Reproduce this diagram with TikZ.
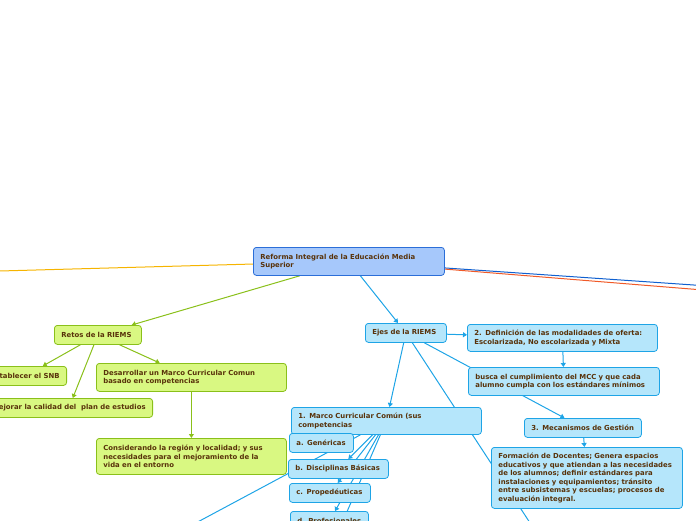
\documentclass[tikz,border=0pt]{standalone}
\usepackage{fontspec}
\setmainfont{DejaVu Sans}
\usetikzlibrary{arrows.meta,backgrounds}

\definecolor{txtbrown}{RGB}{88,50,10}
\definecolor{rootfill}{RGB}{166,200,251}
\definecolor{rootline}{RGB}{43,110,216}
\definecolor{retofill}{RGB}{217,248,130}
\definecolor{retoline}{RGB}{138,192,26}
\definecolor{ejefill}{RGB}{181,230,251}
\definecolor{ejeline}{RGB}{30,164,230}
\definecolor{amarillo}{RGB}{246,180,0}
\definecolor{azul}{RGB}{16,96,208}
\definecolor{naranja}{RGB}{240,90,40}

\begin{document}
\begin{tikzpicture}[x=1pt,y=-1pt,
  box/.style={anchor=north west,rounded corners=3pt,line width=0.8pt,inner xsep=7pt,inner ysep=2pt,
    align=left,text=txtbrown,font=\fontsize{6.9}{8.6}\selectfont\bfseries},
  rootbox/.style={box,draw=rootline,fill=rootfill},
  retobox/.style={box,draw=retoline,fill=retofill},
  ejebox/.style={box,draw=ejeline,fill=ejefill},
  retoedge/.style={draw=retoline,line width=1pt,-{Triangle[length=4pt,width=5pt]}},
  ejeedge/.style={draw=ejeline,line width=1pt,-{Triangle[length=4pt,width=5pt]}}]
  \useasboundingbox (0,0) rectangle (696,520);
  \clip (0,0) rectangle (696,520);

  % central topic
  \node[rootbox,text width=177pt,minimum height=28pt] (reforma) at (253,247)
    {Reforma Integral de la Educación Media\\Superior};

  % green branch
  \node[retobox,text width=73pt,minimum height=19pt] (retos) at (54,325) {Retos de la RIEMS};
  \node[retobox,anchor=north east,minimum height=19pt] (snb) at (67,366) {Establecer el SNB};
  \node[retobox,anchor=north east,minimum height=19pt] (mejorar) at (153,398) {Mejorar la calidad del\ \ plan de estudios};
  \node[retobox,text width=176pt,minimum height=28pt] (desarrollar) at (96,363)
    {Desarrollar un Marco Curricular Comun\\basado en competencias};
  \node[retobox,text width=176pt,minimum height=36pt] (considerando) at (96,438)
    {Considerando la región y localidad; y sus\\necesidades para el mejoramiento de la\\vida en el entorno};

  % blue branch
  \node[ejebox,text width=67pt,minimum height=19pt] (ejes) at (365,323) {Ejes de la RIEMS};
  \node[ejebox,text width=176pt,minimum height=27pt] (modalidades) at (467,324)
    {2. Definición de las modalidades de oferta:\\Escolarizada, No escolarizada y Mixta};
  \node[ejebox,text width=177pt,minimum height=28pt] (busca) at (468,367)
    {busca el cumplimiento del MCC y que cada\\alumno cumpla con los estándares mínimos};
  \node[ejebox,text width=103pt,minimum height=19pt] (gestion) at (524,418) {3. Mecanismos de Gestión};
  \node[ejebox,text width=177pt,minimum height=61pt] (formacion) at (491,447)
    {Formación de Docentes; Genera espacios\\educativos y que atiendan a las necesidades\\de los alumnos; definir estándares para\\instalaciones y equipamientos; tránsito\\entre subsistemas y escuelas; procesos de\\evaluación integral.};
  \node[ejebox,text width=176pt,minimum height=27pt] (marco) at (291,407)
    {1. Marco Curricular Común (sus\\competencias};
  \node[ejebox,text width=50pt,minimum height=19pt] (genericas) at (289,433) {a. Genéricas};
  \node[ejebox,text width=86pt,minimum height=19pt] (basicas) at (288,459) {b. Disciplinas Básicas};
  \node[ejebox,text width=67pt,minimum height=19pt] (propedeuticas) at (289,483) {c. Propedéuticas};
  \node[ejebox,text width=64pt,minimum height=19pt] (profesionales) at (290,511) {d. Profesionales};

  % branches that leave the page
  \coordinate (izq) at (-400,282);
  \coordinate (der1) at (1000,306);
  \coordinate (der2) at (1000,314);
  \coordinate (ejes4) at (600,630);
  \coordinate (marcoext) at (80,585);
  \coordinate (marcoext2) at (300,620);

  \begin{pgfonlayer}{background}
    \draw[amarillo,line width=1pt] (reforma) -- (izq);
    \draw[azul,line width=1pt] (reforma) -- (der1);
    \draw[naranja,line width=1pt] (reforma) -- (der2);
    \draw[retoedge] (reforma) -- (retos);
    \draw[ejeedge] (reforma) -- (ejes);
    \foreach \b in {snb,mejorar,desarrollar} \draw[retoedge] (retos) -- (\b);
    \draw[retoedge] (desarrollar) -- (considerando);
    \foreach \b in {modalidades,gestion,marco} \draw[ejeedge] (ejes) -- (\b);
    \draw[ejeline,line width=1pt] (ejes) -- (ejes4);
    \draw[ejeedge] (modalidades) -- (busca);
    \draw[ejeedge] (gestion) -- (formacion);
    \foreach \b in {genericas,basicas,propedeuticas,profesionales} \draw[ejeedge] (marco) -- (\b);
    \draw[ejeline,line width=1pt] (marco) -- (marcoext);
    \draw[ejeline,line width=1pt] (marco) -- (marcoext2);
  \end{pgfonlayer}
\end{tikzpicture}
\end{document}
